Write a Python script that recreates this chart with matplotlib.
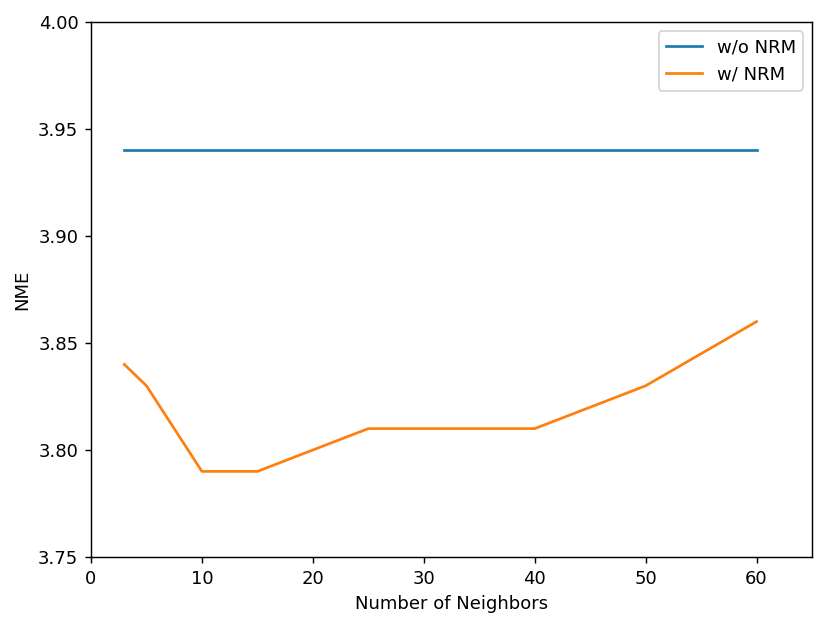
import matplotlib
matplotlib.use("Agg")
import matplotlib.pyplot as plt

# данные
neighbors = [3, 5, 10, 15, 20, 25, 30, 40, 50, 60]
nme_without = [3.94, 3.94, 3.94, 3.94, 3.94, 3.94, 3.94, 3.94, 3.94, 3.94]
nme_with = [3.84, 3.83, 3.79, 3.79, 3.80, 3.81, 3.81, 3.81, 3.83, 3.86]

fig = plt.figure(figsize=(830 / 130, 623 / 130), dpi=130)
ax = fig.add_axes([91 / 830, 66 / 623, 721 / 830, 535 / 623])

ax.plot(neighbors, nme_without, label='w/o NRM')
ax.plot(neighbors, nme_with, label='w/ NRM')
ax.set_xlim(0, 65)
ax.set_ylim(3.75, 4.00)
ax.set_xlabel('Number of Neighbors')
ax.set_ylabel('NME')
ax.legend(loc='upper right')

fig.savefig("out.png", dpi=130)
